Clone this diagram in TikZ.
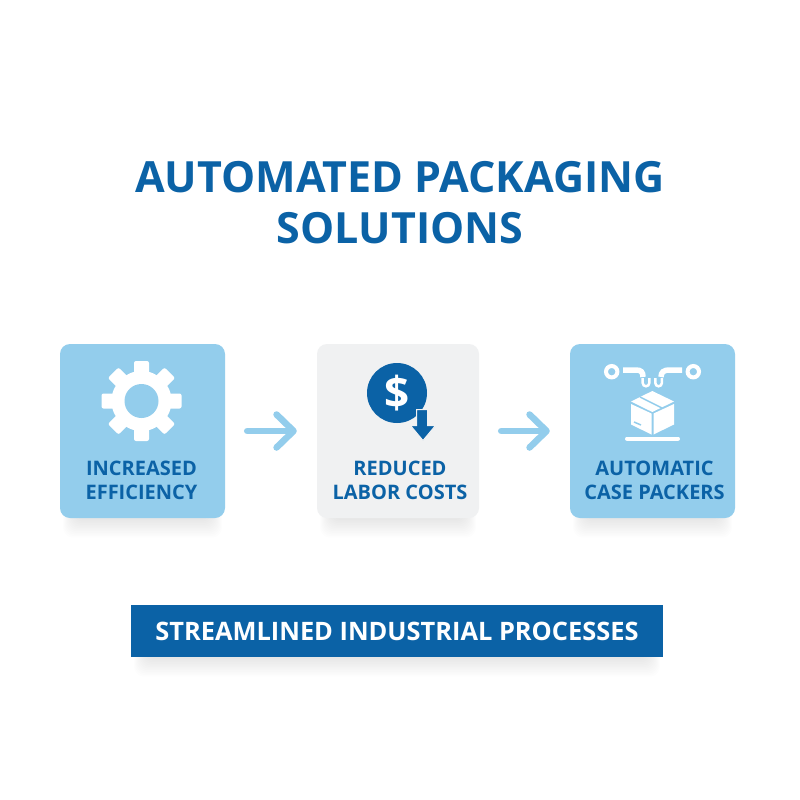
\documentclass[tikz,border=0pt]{standalone}
\usepackage{fontspec}
\setmainfont{Open Sans}
\usepackage{xcolor}
\usetikzlibrary{arrows.meta,positioning}
\definecolor{cardblue}{HTML}{93CDEC}
\definecolor{cardgrey}{HTML}{F0F1F2}
\definecolor{inkblue}{HTML}{0B62A6}
\definecolor{flowblue}{HTML}{93CDEC}
\newcommand{\softshadow}[4]{%
  \foreach \i in {0,...,11}
    \fill[black,opacity=0.008,rounded corners=10pt]
      (#1+14-\i,#2+8) rectangle (#3-14+\i,#4+2+1.6*\i);
}

\begin{document}
\begin{tikzpicture}[x=1pt,y=-1pt,
    card/.style={minimum width=165pt,minimum height=174pt,rounded corners=10pt,inner sep=0pt},
    cardlabel/.style={text=inkblue,font=\fontsize{20}{23.5}\selectfont\bfseries,align=center},
    flow/.style={draw=flowblue,line width=6.5pt,line cap=round,shorten <=22pt,shorten >=20pt,
      -{Straight Barb[length=17pt,width=33pt,round]}},
    icon/.style={fill=white,draw=none}]
    \useasboundingbox (0,0) rectangle (800,800);
    \fill[white] (0,0) rectangle (800,800);

    \softshadow{60}{344}{225}{518}
    \softshadow{317}{344}{479}{518}
    \softshadow{570}{344}{735}{518}
    \softshadow{131}{605}{663}{657}

    \node[font=\fontsize{43}{51}\selectfont\bfseries,text=inkblue,align=center] (title) at (400,203)
      {AUTOMATED PACKAGING\\SOLUTIONS};

    \node[card,fill=cardblue] (efficiency) at (142.5,431) {};
    \node[card,fill=cardgrey,minimum width=162pt] (labor) at (398,431) {};
    \node[card,fill=cardblue] (packers) at (652.5,431) {};
    \node[cardlabel] (efficiencytext) at (141.5,480.5) {INCREASED\\EFFICIENCY};
    \node[cardlabel] (labortext) at (400,480.5) {REDUCED\\LABOR COSTS};
    \node[cardlabel] (packerstext) at (654.5,480.5) {AUTOMATIC\\CASE PACKERS};

    \node[fill=inkblue,minimum width=532pt,minimum height=52pt,inner sep=0pt,text=white,
      font=\fontsize{25.4}{28}\selectfont\bfseries] (banner) at (397,631)
      {STREAMLINED INDUSTRIAL PROCESSES};

    % gear
    \foreach \a in {0,45,...,315}
      \fill[icon,rounded corners=2pt,rotate around={\a:(141.5,401)}] (134,361) rectangle (149,385);
    \fill[icon] (141.5,401) circle (30);
    \fill[cardblue] (141.5,401) circle (17);

    % dollar
    \node[circle,fill=inkblue,minimum size=60pt,inner sep=0pt,text=white,
      font=\fontsize{44}{44}\selectfont\bfseries] (dollar) at (397,393) {\$};
    \draw[fill=inkblue,draw=cardgrey,line width=1pt]
      (416.5,409.5) -- (427.5,409.5) -- (427.5,425.5) -- (435.5,425.5)
      -- (423,440.5) -- (410.5,425.5) -- (416.5,425.5) -- cycle;

    % packer
    \draw[white,line width=4pt] (611.7,371.7) circle (5.7) (693.3,371.7) circle (5.7);
    \draw[white,line width=5.5pt] (623,370) -- (636,370) .. controls (641,370) and (643,372) .. (643,377);
    \draw[white,line width=5.5pt] (682,370) -- (669,370) .. controls (664,370) and (661,372) .. (661,377);
    \draw[white,line width=2.5pt] (642.7,378) -- (642.7,383) arc[start angle=180,end angle=0,radius=3.3] -- (649.3,378);
    \draw[white,line width=2.5pt] (655.3,378) -- (655.3,383) arc[start angle=180,end angle=0,radius=3.3] -- (661.9,378);
    \fill[icon] (631,401.5) -- (652.3,391) -- (674,401.5) -- (652.3,412) -- cycle;
    \draw[cardblue,line width=1.5pt] (640,397) -- (662,408);
    \fill[icon] (631,404) -- (651.5,413.5) -- (651.5,434.5) -- (631,424.5) -- cycle;
    \fill[icon] (653.5,413.5) -- (674,404) -- (674,424.5) -- (653.5,434.5) -- cycle;
    \draw[cardblue,line width=1.5pt] (634,422) -- (641,425);
    \draw[white,line width=4pt,line cap=round] (627,438.5) -- (678,438.5);

    \path[flow]
    (efficiency) edge (labor)
    (labor) edge (packers);
\end{tikzpicture}
\end{document}
